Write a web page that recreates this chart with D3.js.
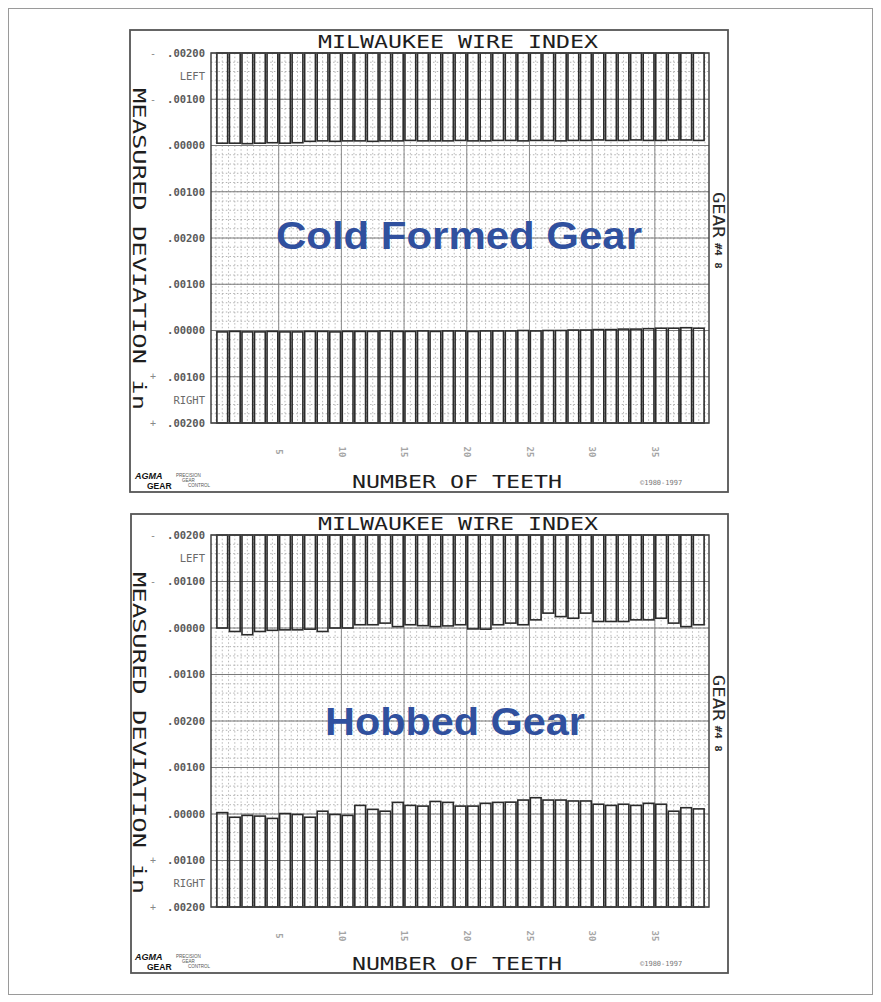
<!DOCTYPE html>
<html>
<head>
<meta charset="utf-8">
<script src="https://cdn.jsdelivr.net/npm/d3@7"></script>
<style>
  body { margin: 0; background: #fff; }
</style>
</head>
<body>
<svg id="chart" width="881" height="1002"></svg>
<script>
// data (deviation in inches, + = towards the centre gap)
const nTeeth = 39;
const toothTicks = [5, 10, 15, 20, 25, 30, 35];
const leftTicks = [0.002, 0.001, 0, -0.001, -0.002];
const rightTicks = [0.001, 0, -0.001, -0.002];
const signRows = [0, 1, 7, 8];
const signMarks = ["-", "-", "+", "+"];
const chartTitle = "MILWAUKEE WIRE INDEX";
const yTitle = "MEASURED DEVIATION in";
const xTitle = "NUMBER OF TEETH";

const coldLeft = [0.00005, 0.00005, 0.00004, 0.00005, 0.00006, 0.00005, 0.00006,
  0.00009, 0.00010, 0.00009, 0.00010, 0.00010, 0.00009, 0.00010, 0.00010,
  0.00011, 0.00010, 0.00010, 0.00010, 0.00011, 0.00010, 0.00010, 0.00011,
  0.00011, 0.00010, 0.00011, 0.00011, 0.00010, 0.00011, 0.00011, 0.00012,
  0.00011, 0.00011, 0.00012, 0.00011, 0.00011, 0.00012, 0.00012, 0.00011];
const coldRight = [-0.00003, -0.00002, -0.00003, -0.00003, -0.00002, -0.00003, -0.00003,
  -0.00002, -0.00002, -0.00003, -0.00002, -0.00002, -0.00002, -0.00001, -0.00002,
  -0.00002, -0.00001, -0.00002, -0.00001, -0.00001, -0.00002, -0.00001, -0.00001,
  -0.00001, 0, -0.00001, 0, 0, 0.00001, 0.00001, 0.00002, 0.00002, 0.00003,
  0.00003, 0.00004, 0.00005, 0.00005, 0.00006, 0.00005];
const hobbedLeft = [0, -0.000075, -0.000145, -0.000075, -0.00005, -0.00004, -0.00004,
  -0.000025, -0.000075, 0, 0, 0.00007, 0.00007, 0.000105, 0.00003, 0.00007,
  0.00005, 0.00003, 0.000045, 0.00007, -0.00002, -0.000025, 0.00007, 0.000105,
  0.00007, 0.000175, 0.00032, 0.000245, 0.00021, 0.00032, 0.00014, 0.00014,
  0.00014, 0.000175, 0.000175, 0.00021, 0.000105, 0.00003, 0.00007];
const hobbedRight = [0.00003, -0.00007, -0.00003, -0.000045, -0.000095, 0.00001, -0.00001,
  -0.00007, 0.00006, -0.00001, -0.00003, 0.000185, 0.0001, 0.00006, 0.00025,
  0.000185, 0.00017, 0.00027, 0.00025, 0.00017, 0.00017, 0.00023, 0.00025,
  0.000255, 0.0003, 0.00035, 0.0003, 0.0003, 0.00028, 0.00028, 0.00021,
  0.000185, 0.00021, 0.000185, 0.00023, 0.00021, 0.00006, 0.000135, 0.00011];

const MONO = "DejaVu Sans Mono, monospace";
const SANS = "Liberation Sans, Arial, sans-serif";
const svg = d3.select("#chart");

// outer frame of the figure
svg.append("rect")
  .attr("x", 8.5).attr("y", 8.5).attr("width", 864).attr("height", 986)
  .attr("fill", "none").attr("stroke", "#9a9a9a").attr("stroke-width", 1);

const fmt = d => d3.format(".5f")(Math.abs(d)).replace(/^0/, "");

function drawPanel(p) {
  const g = svg.append("g").style("font-family", MONO);
  const x = d3.scaleLinear().domain([0, nTeeth]).range([216, 705]);
  const yRow = d3.scaleLinear().domain([0, 8]).range([p.top, p.top + 8 * p.step]);
  const yLeft = d3.scaleLinear().domain([0.002, -0.002]).range([yRow(0), yRow(4)]);
  const yRight = d3.scaleLinear().domain([0.002, -0.002]).range([yRow(4), yRow(8)]);

  // panel border
  g.append("rect")
    .attr("x", p.box[0]).attr("y", p.box[1]).attr("width", p.box[2]).attr("height", p.box[3])
    .attr("fill", "none").attr("stroke", "#555").attr("stroke-width", 1.8);

  // grid: dotted minor, solid major
  g.selectAll(".hmin").data(d3.range(0, 8.01, 0.2)).enter().append("line")
    .attr("x1", 211).attr("x2", 709)
    .attr("y1", d => yRow(d)).attr("y2", d => yRow(d))
    .attr("stroke", "#a0a0a0").attr("stroke-width", 0.8)
    .attr("stroke-dasharray", "1.5,2.2");
  g.selectAll(".vmin").data(d3.range(0, nTeeth + 0.01, 0.5)).enter().append("line")
    .attr("x1", d => x(d)).attr("x2", d => x(d))
    .attr("y1", yRow(0)).attr("y2", yRow(8))
    .attr("stroke", "#a8a8a8").attr("stroke-width", 0.8)
    .attr("stroke-dasharray", "1.5,2.2");
  g.selectAll(".hmaj").data(d3.range(0, 9)).enter().append("line")
    .attr("x1", 211).attr("x2", 709)
    .attr("y1", d => yRow(d)).attr("y2", d => yRow(d))
    .attr("stroke", "#7a7a7a").attr("stroke-width", 1);
  g.selectAll(".vmaj").data(toothTicks).enter().append("line")
    .attr("x1", d => x(d)).attr("x2", d => x(d))
    .attr("y1", yRow(0)).attr("y2", yRow(8))
    .attr("stroke", "#8a8a8a").attr("stroke-width", 1);

  // left flank bars hang from the top, right flank bars stand on the bottom
  g.selectAll(".lbar").data(p.left).enter().append("rect")
    .attr("x", (d, i) => x(i) + 0.9)
    .attr("width", (d, i) => x(i + 1) - x(i) - 1.8)
    .attr("y", yRow(0))
    .attr("height", d => yLeft(d) - yRow(0))
    .attr("fill", "none").attr("stroke", "#2b2b2b").attr("stroke-width", 1.6);
  g.selectAll(".rbar").data(p.right).enter().append("rect")
    .attr("x", (d, i) => x(i) + 0.9)
    .attr("width", (d, i) => x(i + 1) - x(i) - 1.8)
    .attr("y", d => yRight(d))
    .attr("height", d => yRow(8) - yRight(d))
    .attr("fill", "none").attr("stroke", "#2b2b2b").attr("stroke-width", 1.6);

  // plot frame
  g.append("rect")
    .attr("x", 211).attr("y", yRow(0)).attr("width", 498).attr("height", yRow(8) - yRow(0))
    .attr("fill", "none").attr("stroke", "#444").attr("stroke-width", 1.5);

  // y axis labels
  const axL = g.append("g").attr("transform", "translate(211,0)")
    .call(d3.axisLeft(yLeft).tickValues(leftTicks).tickFormat(fmt).tickSize(0).tickPadding(6));
  const axR = g.append("g").attr("transform", "translate(211,0)")
    .call(d3.axisLeft(yRight).tickValues(rightTicks).tickFormat(fmt).tickSize(0).tickPadding(6));
  [axL, axR].forEach(a => {
    a.select(".domain").remove();
    a.selectAll("text")
      .style("font-family", MONO).attr("font-size", 10.5)
      .attr("font-weight", "bold").attr("fill", "#5a5a5a");
  });
  g.selectAll(".sign").data(signRows).enter().append("text")
    .attr("x", 153).attr("y", d => yRow(d)).attr("dy", "0.35em")
    .attr("text-anchor", "middle").attr("font-size", 10).attr("fill", "#888")
    .text((d, i) => signMarks[i]);
  g.append("text").attr("x", 205).attr("y", yRow(0.5)).attr("dy", "0.35em")
    .attr("text-anchor", "end").attr("font-size", 10.5).attr("fill", "#6a6a6a").text("LEFT");
  g.append("text").attr("x", 205).attr("y", yRow(7.5)).attr("dy", "0.35em")
    .attr("text-anchor", "end").attr("font-size", 10.5).attr("fill", "#6a6a6a").text("RIGHT");

  // tooth number labels (rotated, faint)
  const axX = g.append("g").attr("transform", `translate(0,${p.tickY})`)
    .call(d3.axisBottom(x).tickValues(toothTicks).tickSize(0).tickPadding(0));
  axX.select(".domain").remove();
  axX.selectAll("text")
    .attr("transform", "rotate(90)")
    .attr("x", 0).attr("y", 0).attr("dy", "0.35em")
    .attr("text-anchor", "middle")
    .style("font-family", MONO).attr("font-size", 9)
    .attr("font-weight", "bold").attr("fill", "#a5a5a5");

  // titles
  g.append("text").attr("x", 458).attr("y", yRow(0) - 5)
    .attr("text-anchor", "middle").attr("font-size", 18).attr("fill", "#1e1e1e")
    .attr("textLength", 280).attr("lengthAdjust", "spacingAndGlyphs")
    .text(chartTitle);
  g.append("text").attr("x", 457).attr("y", p.xTitleY)
    .attr("text-anchor", "middle").attr("font-size", 18).attr("fill", "#1e1e1e")
    .attr("textLength", 210).attr("lengthAdjust", "spacingAndGlyphs")
    .text(xTitle);
  g.append("text")
    .attr("transform", `translate(139,${p.yTitleC}) rotate(90)`)
    .attr("text-anchor", "middle").attr("dy", "0.35em")
    .attr("font-size", 18).attr("fill", "#1e1e1e")
    .attr("textLength", 322).attr("lengthAdjust", "spacingAndGlyphs")
    .text(yTitle);
  g.append("text")
    .attr("transform", `translate(718,${yRow(3.5)}) rotate(90)`)
    .attr("text-anchor", "middle").attr("dy", "0.35em")
    .attr("font-size", 15).attr("fill", "#2a2a2a")
    .attr("textLength", 46).attr("lengthAdjust", "spacingAndGlyphs")
    .text("GEAR");
  g.append("text")
    .attr("transform", `translate(718,${yRow(3.5) + 41}) rotate(90)`)
    .attr("text-anchor", "middle").attr("dy", "0.35em")
    .attr("font-size", 9).attr("font-weight", "bold").attr("fill", "#2a2a2a")
    .attr("textLength", 26).attr("lengthAdjust", "spacingAndGlyphs")
    .text("#4 8");

  // logo and copyright
  const b = p.box[1] + p.box[3];
  g.append("text").attr("x", 135).attr("y", b - 13)
    .style("font-family", SANS).attr("font-size", 9).attr("font-weight", "bold")
    .attr("font-style", "italic").attr("fill", "#111").text("AGMA");
  g.append("text").attr("x", 147).attr("y", b - 3)
    .style("font-family", SANS).attr("font-size", 8.5).attr("font-weight", "bold")
    .attr("fill", "#111").text("GEAR");
  ["PRECISION", "GEAR", "CONTROL"].forEach((t, i) => {
    g.append("text").attr("x", 176 + i * 6).attr("y", b - 15 + i * 5)
      .style("font-family", SANS).attr("font-size", 4.5)
      .attr("fill", "#555").text(t);
  });
  g.append("text").attr("x", 640).attr("y", b - 7)
    .attr("font-size", 7).attr("fill", "#777").text("©1980-1997");

  // big overlay caption
  g.append("text").attr("x", p.capX).attr("y", p.capY)
    .attr("text-anchor", "middle")
    .style("font-family", SANS)
    .attr("font-size", 38).attr("font-weight", "bold").attr("fill", "#30509e")
    .attr("textLength", p.capW).attr("lengthAdjust", "spacingAndGlyphs")
    .text(p.caption);
}

drawPanel({
  box: [130, 30, 598, 462], top: 53, step: 46.25, tickY: 452,
  xTitleY: 488, yTitleC: 249,
  left: coldLeft, right: coldRight,
  caption: "Cold Formed Gear", capX: 459, capY: 249, capW: 366
});
drawPanel({
  box: [131, 514, 597, 459], top: 535, step: 46.5, tickY: 936,
  xTitleY: 970, yTitleC: 733,
  left: hobbedLeft, right: hobbedRight,
  caption: "Hobbed Gear", capX: 455, capY: 735, capW: 260
});
</script>
</body>
</html>
